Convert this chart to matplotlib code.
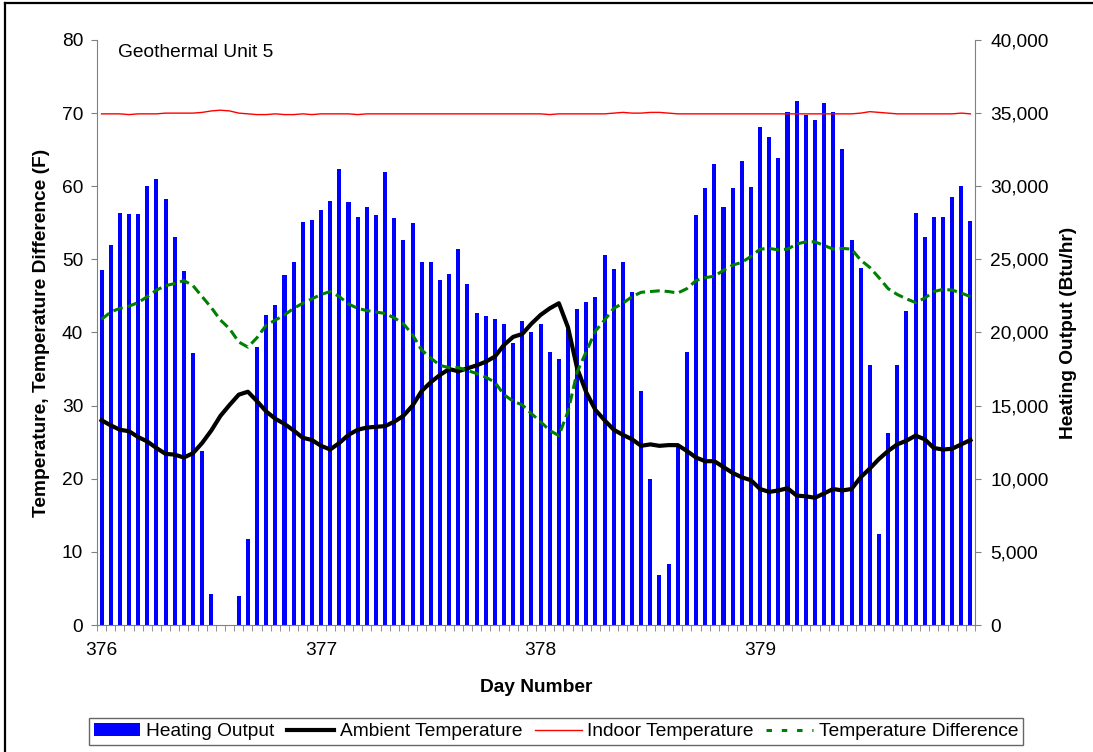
import numpy as np
import matplotlib
matplotlib.use("Agg")
import matplotlib.pyplot as plt
from matplotlib.lines import Line2D
from matplotlib.patches import Patch
from matplotlib.ticker import FuncFormatter, FixedLocator

plt.rcParams['font.family'] = ['Liberation Sans', 'DejaVu Sans']

# ---------------- data (hourly, day 376 .. 379.96) ----------------
start_day = 376
hours = np.arange(96)

heating_output = [
    24250, 26000, 28200, 28100, 28100, 30000, 30500, 29150, 26550, 24200, 18600, 11900,
    2150, 0, 0, 1950, 5850, 19000, 21200, 21900, 23950, 24850, 27550, 27700,
    28350, 29000, 31150, 28950, 27900, 28600, 28000, 31000, 27850, 26350, 27500, 24850,
    24800, 23600, 24000, 25700, 23350, 21350, 21150, 20950, 20550, 19250, 20800, 20050,
    20600, 18700, 18200, 20250, 21600, 22100, 22450, 25300, 24350, 24850, 22800, 16000,
    9950, 3400, 4200, 12150, 18700, 28000, 29900, 31500, 28600, 29900, 31750, 29950,
    34050, 33400, 31950, 35100, 35850, 34900, 34550, 35700, 35100, 32550, 26350, 24400,
    17750, 6250, 13150, 17800, 21500, 28200, 26550, 27900, 27900, 29250, 30000, 27600,
]

ambient_temp = [
    28.0, 27.3, 26.7, 26.5, 25.7, 25.1, 24.2, 23.4, 23.3, 22.9, 23.5, 24.9,
    26.6, 28.6, 30.1, 31.5, 31.9, 30.6, 29.2, 28.2, 27.5, 26.6, 25.6, 25.3,
    24.5, 24.0, 24.9, 26.0, 26.7, 27.0, 27.1, 27.2, 27.8, 28.6, 30.0, 32.0,
    33.2, 34.2, 35.0, 34.7, 35.1, 35.5, 36.0, 36.7, 38.3, 39.4, 39.8, 41.2,
    42.4, 43.3, 44.0, 40.7, 35.1, 31.8, 29.4, 28.0, 26.7, 26.0, 25.4, 24.5,
    24.7, 24.5, 24.6, 24.6, 23.8, 22.9, 22.4, 22.4, 21.6, 20.8, 20.2, 19.8,
    18.6, 18.2, 18.4, 18.7, 17.7, 17.6, 17.4, 18.0, 18.6, 18.4, 18.6, 20.2,
    21.4, 22.7, 23.8, 24.7, 25.2, 25.9, 25.4, 24.2, 24.0, 24.1, 24.7, 25.3,
]

indoor_temp = [
    69.9, 69.9, 69.9, 69.8, 69.9, 69.9, 69.9, 70.0, 70.0, 70.0, 70.0, 70.1,
    70.3, 70.4, 70.3, 70.0, 69.9, 69.8, 69.8, 69.9, 69.8, 69.8, 69.9, 69.8,
    69.9, 69.9, 69.9, 69.9, 69.8, 69.9, 69.9, 69.9, 69.9, 69.9, 69.9, 69.9,
    69.9, 69.9, 69.9, 69.9, 69.9, 69.9, 69.9, 69.9, 69.9, 69.9, 69.9, 69.9,
    69.9, 69.8, 69.9, 69.9, 69.9, 69.9, 69.9, 69.9, 70.0, 70.1, 70.0, 70.0,
    70.1, 70.1, 70.0, 69.9, 69.9, 69.9, 69.9, 69.9, 69.9, 69.9, 69.9, 69.9,
    69.9, 69.9, 69.9, 69.9, 69.9, 69.9, 69.9, 69.9, 69.9, 69.9, 69.9, 70.0,
    70.2, 70.1, 70.0, 69.9, 69.9, 69.9, 69.9, 69.9, 69.9, 69.9, 70.0, 69.9,
]

temp_difference = [
    41.8, 42.8, 43.3, 43.6, 44.1, 44.9, 45.8, 46.4, 46.7, 47.1, 46.4, 44.9,
    43.4, 41.7, 40.5, 38.7, 38.0, 39.3, 41.0, 41.7, 42.4, 43.3, 44.0, 44.6,
    45.2, 45.6, 44.9, 43.9, 43.3, 43.0, 42.8, 42.6, 42.0, 41.2, 39.7, 37.6,
    36.5, 35.5, 35.2, 35.2, 34.8, 34.4, 33.9, 33.2, 31.5, 30.6, 30.1, 28.9,
    27.8, 26.6, 25.9, 29.2, 34.6, 37.4, 40.2, 41.7, 43.3, 44.0, 44.9, 45.5,
    45.6, 45.7, 45.6, 45.4, 46.0, 47.1, 47.5, 47.7, 48.5, 49.2, 49.6, 50.4,
    51.4, 51.5, 51.3, 51.4, 52.1, 52.4, 52.4, 51.9, 51.4, 51.5, 51.4, 49.9,
    48.9, 47.5, 46.0, 45.2, 44.6, 44.1, 44.7, 45.6, 45.9, 45.8, 45.4, 44.9,
]

day_ticks = [376, 377, 378, 379]
temp_ticks = list(range(0, 81, 10))
heat_ticks = list(range(0, 40001, 5000))

FS = 13.8

# ---------------- figure ----------------
W, H = 1093, 752
fig = plt.figure(figsize=(W / 100, H / 100), dpi=100)
ax = fig.add_axes([97 / W, 1 - 625 / H, 878 / W, 585 / H])
ax2 = ax.twinx()

x = start_day + hours / 24.0
step = 1 / 24.0

# bars on the secondary (right) axis
ax2.bar(x, heating_output, width=0.44 * step, color='#0000FF', edgecolor='none',
        label='Heating Output')

# lines on the primary (left) axis, drawn above the bars
ax.set_zorder(ax2.get_zorder() + 1)
ax.patch.set_visible(False)
ax.plot(x, ambient_temp, color='black', lw=3.0, solid_joinstyle='round',
        label='Ambient Temperature')
ax.plot(x, indoor_temp, color='#FF0000', lw=1.0, label='Indoor Temperature')
ax.plot(x, temp_difference, color='#008000', lw=2.2, dashes=(3.2, 1.6),
        label='Temperature Difference')

xmin = start_day - step / 2
xmax = start_day + 96 * step - step / 2
ax.set_xlim(xmin, xmax)
ax.set_ylim(0, 80)
ax2.set_ylim(0, 40000)

grey = '#808080'
for a in (ax, ax2):
    for s in a.spines.values():
        s.set_color(grey)
    a.spines['top'].set_visible(False)
ax2.spines['left'].set_visible(False)
ax2.spines['bottom'].set_visible(False)
ax.spines['right'].set_visible(False)

ax.set_yticks(temp_ticks)
ax.tick_params(axis='y', direction='out', length=4, color=grey, labelsize=FS, pad=6)
ax2.set_yticks(heat_ticks)
ax2.yaxis.set_major_formatter(FuncFormatter(lambda v, p: f"{int(v):,}"))
ax2.tick_params(axis='y', direction='out', length=4, color=grey, labelsize=FS, pad=7)

ax.set_xticks(day_ticks)
ax.set_xticklabels([str(d) for d in day_ticks])
ax.xaxis.set_minor_locator(FixedLocator(list(xmin + np.arange(97) * step)))
ax.tick_params(axis='x', which='major', length=0, labelsize=FS, pad=12)
ax.tick_params(axis='x', which='minor', direction='out', length=4, color=grey)

ax.set_ylabel('Temperature, Temperature Difference (F)', fontsize=FS, fontweight='bold')
ax.yaxis.set_label_coords(-0.0535, 0.5)
ax2.set_ylabel('Heating Output (Btu/hr)', fontsize=FS, fontweight='bold')
ax2.yaxis.set_label_coords(1.0968, 0.5)
ax.set_xlabel('Day Number', fontsize=FS, fontweight='bold')
ax.xaxis.set_label_coords(0.5, -0.093)

ax.text(0.024, 0.978, 'Geothermal Unit 5', transform=ax.transAxes, fontsize=FS,
        ha='left', va='center')

# legend
handles = [
    Patch(facecolor='#0000FF', edgecolor='none', label='Heating Output'),
    Line2D([], [], color='black', lw=3.0, label='Ambient Temperature'),
    Line2D([], [], color='#FF0000', lw=1.0, label='Indoor Temperature'),
    Line2D([], [], color='#008000', lw=2.2, dashes=(1.8, 3.2), label='Temperature Difference'),
]
leg = fig.legend(handles=handles, loc='center', bbox_to_anchor=(556 / W, 1 - 731.5 / H),
                 ncol=4, fontsize=FS, frameon=True, fancybox=False, edgecolor='#404040',
                 handlelength=2.45, handletextpad=0.3, columnspacing=0.65,
                 borderpad=0.25, borderaxespad=0)
leg.get_frame().set_linewidth(1.0)

# outer chart border (top and left visible in the reference)
fig.add_artist(Line2D([5 / W, 1.0], [1 - 3 / H, 1 - 3 / H], transform=fig.transFigure,
                      color='black', lw=1.6))
fig.add_artist(Line2D([5 / W, 5 / W], [1 - 3 / H, 0.0], transform=fig.transFigure,
                      color='black', lw=1.6))

fig.savefig('out.png', dpi=100)
